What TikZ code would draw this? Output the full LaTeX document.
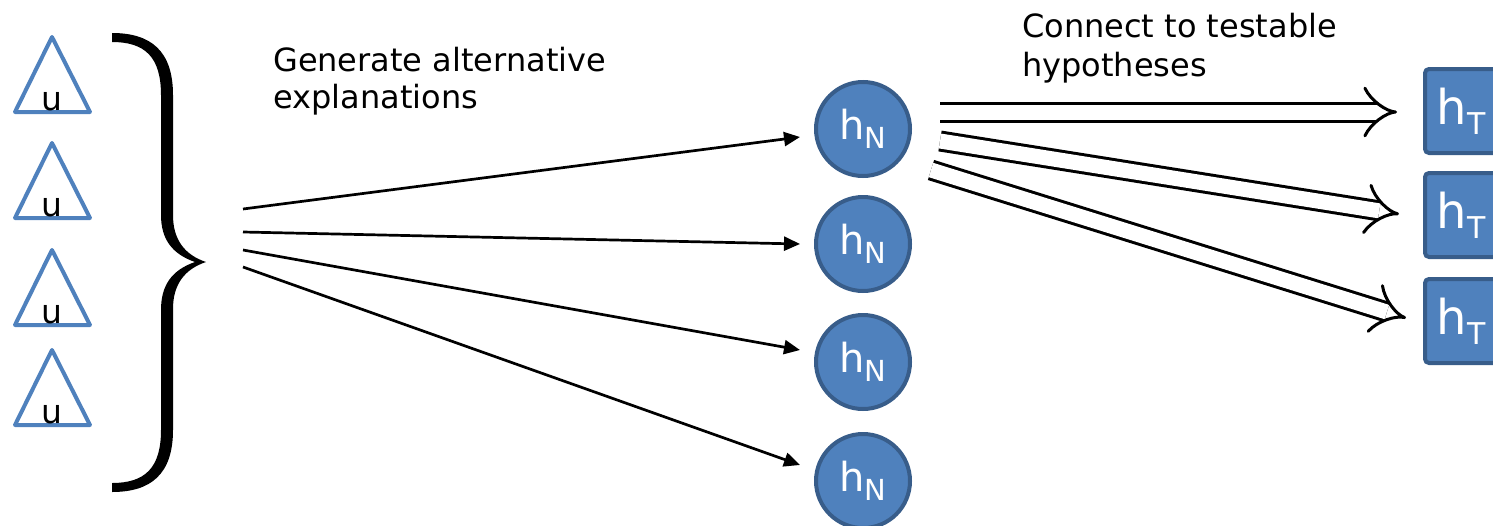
\documentclass[tikz,border=0pt]{standalone}
\usepackage{fontspec}
\setmainfont{DejaVu Sans}
\usetikzlibrary{arrows.meta,calc}
\definecolor{blu}{HTML}{4F81BD}
\definecolor{bluedge}{HTML}{385D8A}
\begin{document}
\begin{tikzpicture}[x=1pt,y=-1pt,
  tri/.style={draw=blu,line width=4pt,line join=round},
  ulbl/.style={font=\fontsize{33}{33}\selectfont,anchor=base,inner sep=0pt},
  hn/.style={circle,fill=blu,draw=bluedge,line width=4pt,minimum size=94pt,inner sep=0pt,text=white},
  ht/.style={rectangle,rounded corners=4pt,fill=blu,draw=bluedge,line width=4pt,minimum width=72pt,minimum height=84pt,inner sep=0pt,text=white},
  genarrow/.style={line width=2.7pt,-{Triangle[length=16pt,width=14pt]}},
  dblarrow/.style={line width=3pt,double distance=15pt,-{Implies[length=29pt,width=64pt,line width=3pt]}},
  lbl/.style={font=\fontsize{32}{36}\selectfont,anchor=base west,inner sep=0pt}
]
\clip (0,0) rectangle (1493,525);
\useasboundingbox (0,0) rectangle (1493,525);

% triangles
\foreach \i/\a in {1/37,2/143,3/250,4/350}{
  \draw[tri] (52,\a) -- (90,\a+75) -- (15,\a+75) -- cycle;
  \node[ulbl] (u\i) at (52,\a+73) {u};
}

% brace
\fill[black] (112,33) .. controls (150,33) and (173,50) .. (173,95) -- (173,215)
  .. controls (173,240) and (185,255) .. (206,262)
  .. controls (185,269) and (173,284) .. (173,309) -- (173,430)
  .. controls (173,475) and (150,492) .. (112,492) -- (112,483)
  .. controls (145,483) and (161,468) .. (161,430) -- (161,310)
  .. controls (161,285) and (172,270) .. (195,262)
  .. controls (172,254) and (161,239) .. (161,215) -- (161,95)
  .. controls (161,57) and (145,42) .. (112,42) -- cycle;

% labels
\node[lbl] (gen1) at (273,71) {Generate alternative};
\node[lbl] (gen2) at (273,108) {explanations};
\node[lbl] (con1) at (1022,37.5) {Connect to testable};
\node[lbl] (con2) at (1022,76) {hypotheses};

% h_N circles
\foreach \i/\y in {1/129,2/244,3/362,4/481}{
  \node[hn] (n\i) at (863,\y) {\fontsize{40}{40}\selectfont h\raisebox{-0.22em}{\fontsize{29}{29}\selectfont N}};
}

% h_T boxes
\foreach \i/\y in {1/111,2/215,3/321}{
  \node[ht] (t\i) at (1461,\y) {\fontsize{48}{48}\selectfont h\raisebox{-0.2em}{\fontsize{30}{30}\selectfont T}};
}

% fan arrows
\coordinate (s1) at (243,209); \coordinate (e1) at (800,137);
\coordinate (s2) at (243,232); \coordinate (e2) at (800,244);
\coordinate (s3) at (243,250); \coordinate (e3) at (800,350);
\coordinate (s4) at (243,267); \coordinate (e4) at (800,465);
\foreach \i in {1,...,4}{ \draw[genarrow] (s\i) -- (e\i); }

% double arrows
\coordinate (d1) at (940,112); \coordinate (f1) at (1397,112);
\coordinate (d2) at (940,141); \coordinate (f2) at (1399,214);
\coordinate (d3) at (931,170); \coordinate (f3) at (1406,318);
\foreach \i in {1,2,3}{ \draw[dblarrow] (d\i) -- (f\i); }
\end{tikzpicture}
\end{document}
